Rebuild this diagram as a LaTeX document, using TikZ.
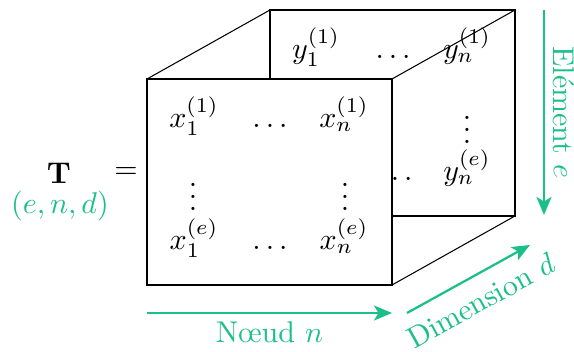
\documentclass[tikz,border=0pt]{standalone}
\usepackage{amsmath}
\usepackage{tikz}
\usetikzlibrary{arrows.meta,positioning,calc}
\definecolor{mint}{HTML}{1ABF8A}

\begin{document}
\begin{tikzpicture}[x=0.3333pt,y=-0.3333pt,
    edge/.style={draw=black,line width=0.35pt},
    entry/.style={inner sep=0pt,anchor=base},
    axis/.style={draw=mint,line width=0.75pt,-{Stealth[length=6pt,width=5pt,inset=1.5pt]}},
    axislabel/.style={text=mint,inner sep=0pt}]
  \useasboundingbox (0,0) rectangle (574,352);
  % corners of the block
  \coordinate (fa) at (147,79);
  \coordinate (fb) at (392,79);
  \coordinate (fc) at (392,285);
  \coordinate (fd) at (147,285);
  \coordinate (ba) at (270,10);
  \coordinate (bb) at (515,10);
  \coordinate (bc) at (515,216);
  % back face
  \draw[edge] (ba) rectangle (bc);
  \draw[edge] (fa) -- (ba) (fb) -- (bb) (fc) -- (bc);
  \node[entry] (y11) at (316,59) {$y_1^{(1)}$};
  \node[entry] (ydots1) at (393,59) {$\ldots$};
  \node[entry] (yn1) at (467,59) {$y_n^{(1)}$};
  \node[inner sep=0pt] (yvdots) at (467,121) {$\vdots$};
  \node[entry] (ydotse) at (395,181) {$\ldots$};
  \node[entry] (yne) at (467,181) {$y_n^{(e)}$};
  % front face
  \filldraw[edge,fill=white] (fa) rectangle (fc);
  \node[entry] (x11) at (194,128) {$x_1^{(1)}$};
  \node[entry] (xdots1) at (270,128) {$\ldots$};
  \node[entry] (xn1) at (344,128) {$x_n^{(1)}$};
  \node[inner sep=0pt] (xvdots1) at (193,188) {$\vdots$};
  \node[inner sep=0pt] (xvdotsn) at (345,188) {$\vdots$};
  \node[entry] (x1e) at (194,250) {$x_1^{(e)}$};
  \node[entry] (xdotse) at (270,250) {$\ldots$};
  \node[entry] (xne) at (344,250) {$x_n^{(e)}$};
  % tensor name
  \node[inner sep=0pt] (T) at (59,173) {$\mathbf{T}$};
  \node[inner sep=0pt,text=mint] (Tdim) at (60,206) {$(e,n,d)$};
  \node[inner sep=0pt] (eq) at (126,173) {$=$};
  % axes
  \coordinate (n0) at (147,313);
  \coordinate (n1) at (392,313);
  \coordinate (d0) at (407,313);
  \coordinate (d1) at (530,245);
  \coordinate (e0) at (544,10);
  \coordinate (e1) at (544,215);
  \draw[axis] (n0) -- (n1) node[axislabel,midway,below=2.5pt] {Nœud $n$};
  \draw[axis] (d0) -- (d1) node[axislabel,midway,sloped,below=4.5pt] {Dimension $d$};
  \draw[axis] (e0) -- (e1) node[axislabel,midway,sloped,above=2.8pt] {Elément $e$};
\end{tikzpicture}
\end{document}
